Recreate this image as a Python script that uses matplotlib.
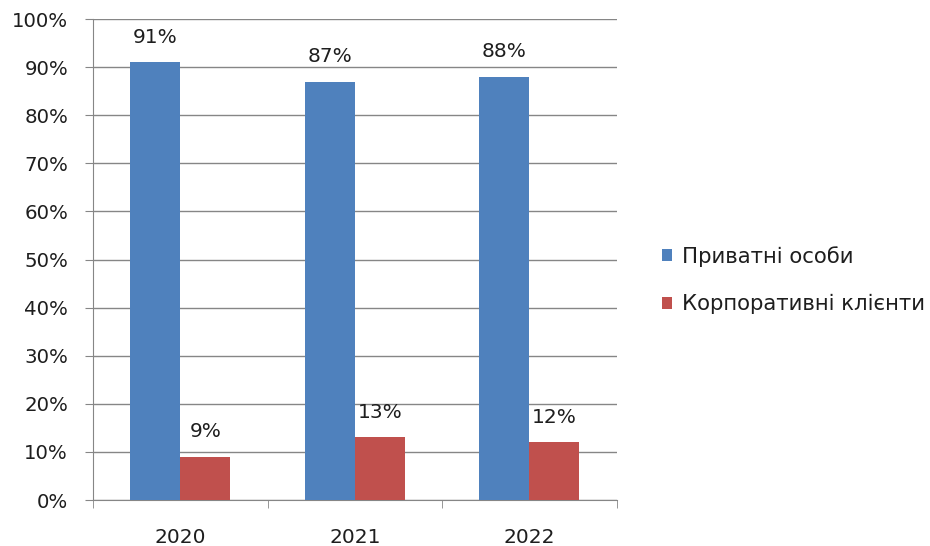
import numpy as np
import matplotlib.pyplot as plt
from matplotlib.ticker import PercentFormatter

years = ['2020', '2021', '2022']
private = [91, 87, 88]
corporate = [9, 13, 12]
series_names = ['Приватні особи', 'Корпоративні клієнти']

blue = '#4f81bd'
red = '#c0504d'
txt = '#1e1e1e'

plt.rcParams['font.family'] = ['DejaVu Sans']

fig = plt.figure(figsize=(9.3, 5.46), dpi=100)
ax = fig.add_axes([0.1, 0.0842, 0.563, 0.881])

x = np.arange(len(years))
w = 0.286
b1 = ax.bar(x - w / 2, private, w, color=blue, label=series_names[0], zorder=3)
b2 = ax.bar(x + w / 2, corporate, w, color=red, label=series_names[1], zorder=3)

for bars, vals in ((b1, private), (b2, corporate)):
    for rect, v in zip(bars, vals):
        ax.annotate(f'{v}%', (rect.get_x() + rect.get_width() / 2, v),
                    xytext=(0, 11), textcoords='offset points',
                    ha='center', va='bottom', fontsize=14.5, color=txt)

ax.set_ylim(0, 100)
ax.set_xlim(-0.5, 2.5)
ax.set_yticks(np.arange(0, 101, 10))
ax.yaxis.set_major_formatter(PercentFormatter(decimals=0))
ax.set_xticks(x)
ax.set_xticklabels(years)
ax.set_xticks([-0.5, 0.5, 1.5, 2.5], minor=True)
ax.tick_params(axis='x', which='major', length=0, pad=20, labelsize=14.5, labelcolor=txt)
ax.tick_params(axis='x', which='minor', length=6, color='#868686')
ax.tick_params(axis='y', length=6, color='#868686', labelsize=14.2, pad=12, labelcolor=txt)

ax.grid(axis='y', color='#868686', linewidth=1, zorder=0)
for s in ('top', 'right'):
    ax.spines[s].set_visible(False)
for s in ('left', 'bottom'):
    ax.spines[s].set_color('#868686')

fig.legend(handles=[b1, b2], loc='center left', bbox_to_anchor=(0.691, 0.487),
           frameon=False, fontsize=15.3, handlelength=0.48, handleheight=0.48,
           labelspacing=1.3, handletextpad=0.45, labelcolor=txt)

fig.savefig('out.png')
